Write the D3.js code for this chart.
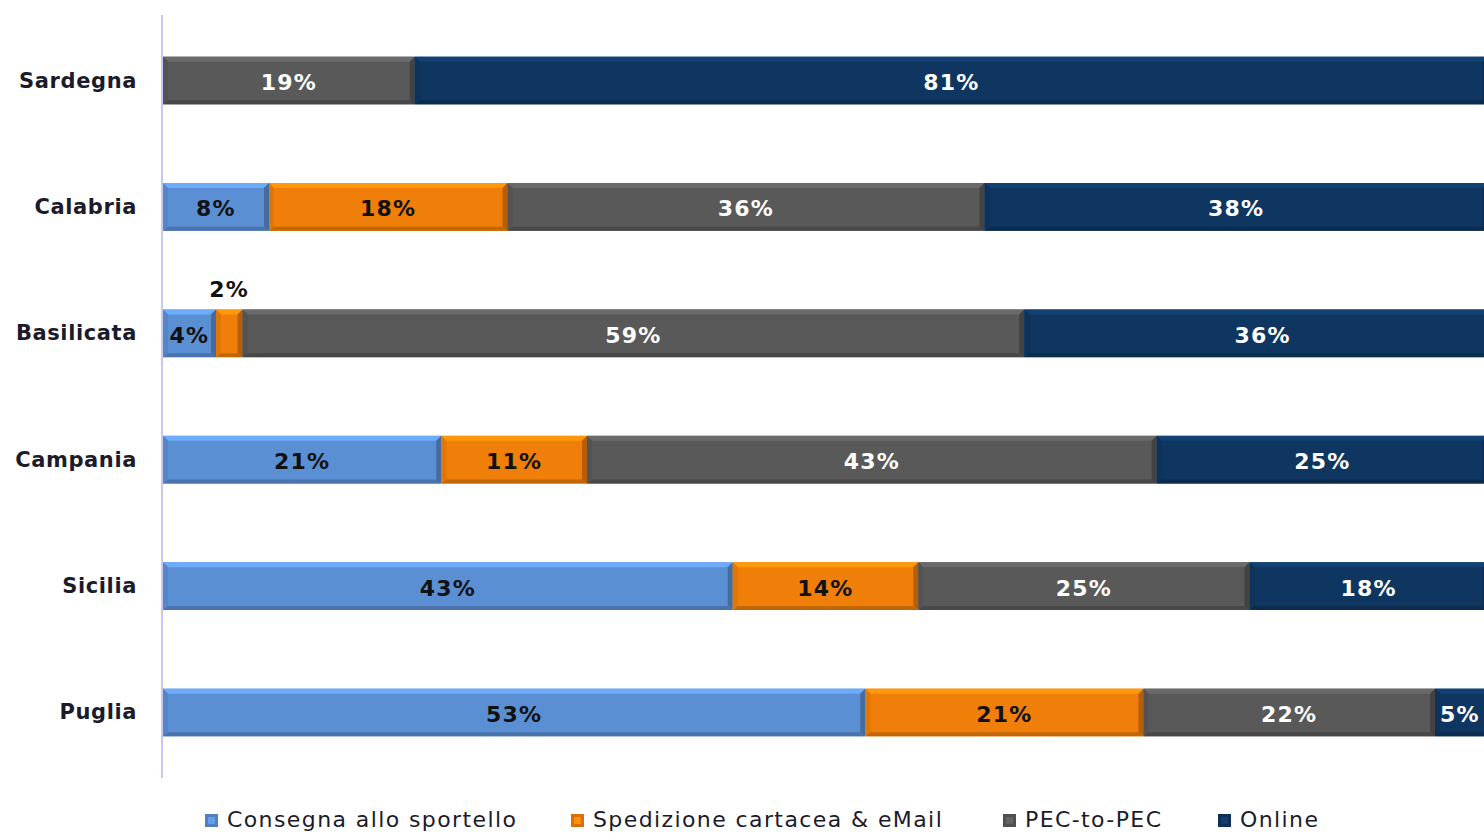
<!DOCTYPE html>
<html>
<head>
<meta charset="utf-8">
<script src="https://cdn.jsdelivr.net/npm/d3@7"></script>
<style>
  html, body { margin: 0; padding: 0; background: #fff; overflow: hidden; }
  svg { display: block; }
</style>
</head>
<body>
<svg id="chart" width="1484" height="833"></svg>
<script>
// Regions, top to bottom
const regions = ["Sardegna", "Calabria", "Basilicata", "Campania", "Sicilia", "Puglia"];
// Channel names (legend order = stacking order)
const channels = ["Consegna allo sportello", "Spedizione cartacea & eMail", "PEC-to-PEC", "Online"];
// Shares (%) per region, one array per channel
const sportello = [0, 8, 4, 21, 43, 53];
const cartacea  = [0, 18, 2, 11, 14, 21];
const pec       = [19, 36, 59, 43, 25, 22];
const online    = [81, 38, 36, 25, 18, 5];

const series = [sportello, cartacea, pec, online];
const colors = ["#5b8fd3", "#f07f09", "#595959", "#0f3660"];
const labelColors = ["#111", "#111", "#fff", "#fff"];

const svg = d3.select("#chart");
const x = d3.scaleLinear().domain([0, 100]).range([163, 1488]);
const y = d3.scaleBand().domain(regions).range([15, 778]).paddingInner(0.623).paddingOuter(0.33);

// Vertical axis line
svg.append("line")
  .attr("x1", 162).attr("x2", 162)
  .attr("y1", 15).attr("y2", 778)
  .attr("stroke", "#b4b4f0").attr("stroke-width", 1.5);

const font = "DejaVu Sans, Verdana, sans-serif";

// Category labels
svg.append("g").selectAll("text").data(regions).join("text")
  .attr("x", 137)
  .attr("y", d => y(d) + y.bandwidth() / 2)
  .attr("text-anchor", "end")
  .attr("dominant-baseline", "central")
  .attr("font-family", font)
  .attr("font-weight", "bold")
  .attr("font-size", 21)
  .attr("letter-spacing", 0.6)
  .attr("fill", "#1b1b2b")
  .text(d => d);

// Build stacked segments
const segments = [];
regions.forEach((r, i) => {
  let acc = 0;
  series.forEach((s, k) => {
    const v = s[i];
    if (v > 0) segments.push({ region: r, k, v, x0: acc, x1: acc + v });
    acc += v;
  });
});

const bevel = 5;
function poly(pts) { return "M" + pts.map(p => p.join(",")).join("L") + "Z"; }

const gSeg = svg.append("g");
segments.forEach(d => {
  const x0 = x(d.x0), x1 = x(d.x1), y0 = y(d.region), h = y.bandwidth(), y1 = y0 + h;
  const base = d3.color(colors[d.k]);
  const g = gSeg.append("g");
  g.append("rect").attr("x", x0).attr("y", y0).attr("width", x1 - x0).attr("height", h)
    .attr("fill", base.formatHex());
  // top highlight
  g.append("path").attr("d", poly([[x0, y0], [x1, y0], [x1 - bevel, y0 + bevel], [x0 + bevel, y0 + bevel]]))
    .attr("fill", base.brighter(0.5).formatHex());
  // bottom shade
  g.append("path").attr("d", poly([[x0, y1], [x1, y1], [x1 - bevel, y1 - bevel + 1], [x0 + bevel, y1 - bevel + 1]]))
    .attr("fill", base.darker(0.6).formatHex());
  // left edge
  g.append("path").attr("d", poly([[x0, y0], [x0 + bevel, y0 + bevel], [x0 + bevel, y1 - bevel + 1], [x0, y1]]))
    .attr("fill", base.darker(0.2).formatHex());
  // right edge
  g.append("path").attr("d", poly([[x1, y0], [x1 - bevel, y0 + bevel], [x1 - bevel, y1 - bevel + 1], [x1, y1]]))
    .attr("fill", base.darker(0.8).formatHex());
});

// Value labels (the last one is nudged so it stays inside the view)
svg.append("g").selectAll("text").data(segments).join("text")
  .attr("x", d => Math.min((x(d.x0) + x(d.x1)) / 2, 1460))
  .attr("y", d => d.v <= 2 ? y(d.region) - 20 : y(d.region) + y.bandwidth() / 2 + 2)
  .attr("text-anchor", "middle")
  .attr("dominant-baseline", "central")
  .attr("font-family", font)
  .attr("font-weight", "bold")
  .attr("font-size", 22)
  .attr("letter-spacing", 1.2)
  .attr("fill", d => d.v <= 2 ? "#111" : labelColors[d.k])
  .text(d => d.v + "%");

// Legend
const legendX = [205, 571, 1003, 1218];
const lg = svg.append("g").selectAll("g").data(channels).join("g")
  .attr("transform", (d, i) => `translate(${legendX[i]},0)`);
lg.append("rect").attr("x", 0).attr("y", 814).attr("width", 13).attr("height", 13)
  .attr("fill", (d, i) => d3.color(colors[i]).darker(0.3).formatHex());
lg.append("rect").attr("x", 3).attr("y", 817).attr("width", 7).attr("height", 7)
  .attr("fill", (d, i) => d3.color(colors[i]).brighter(0.3).formatHex());
lg.append("text")
  .attr("x", 22).attr("y", 819)
  .attr("dominant-baseline", "central")
  .attr("font-family", font)
  .attr("font-size", 22)
  .attr("letter-spacing", 1.4)
  .attr("fill", "#1b1b2b")
  .text(d => d);
</script>
</body>
</html>
